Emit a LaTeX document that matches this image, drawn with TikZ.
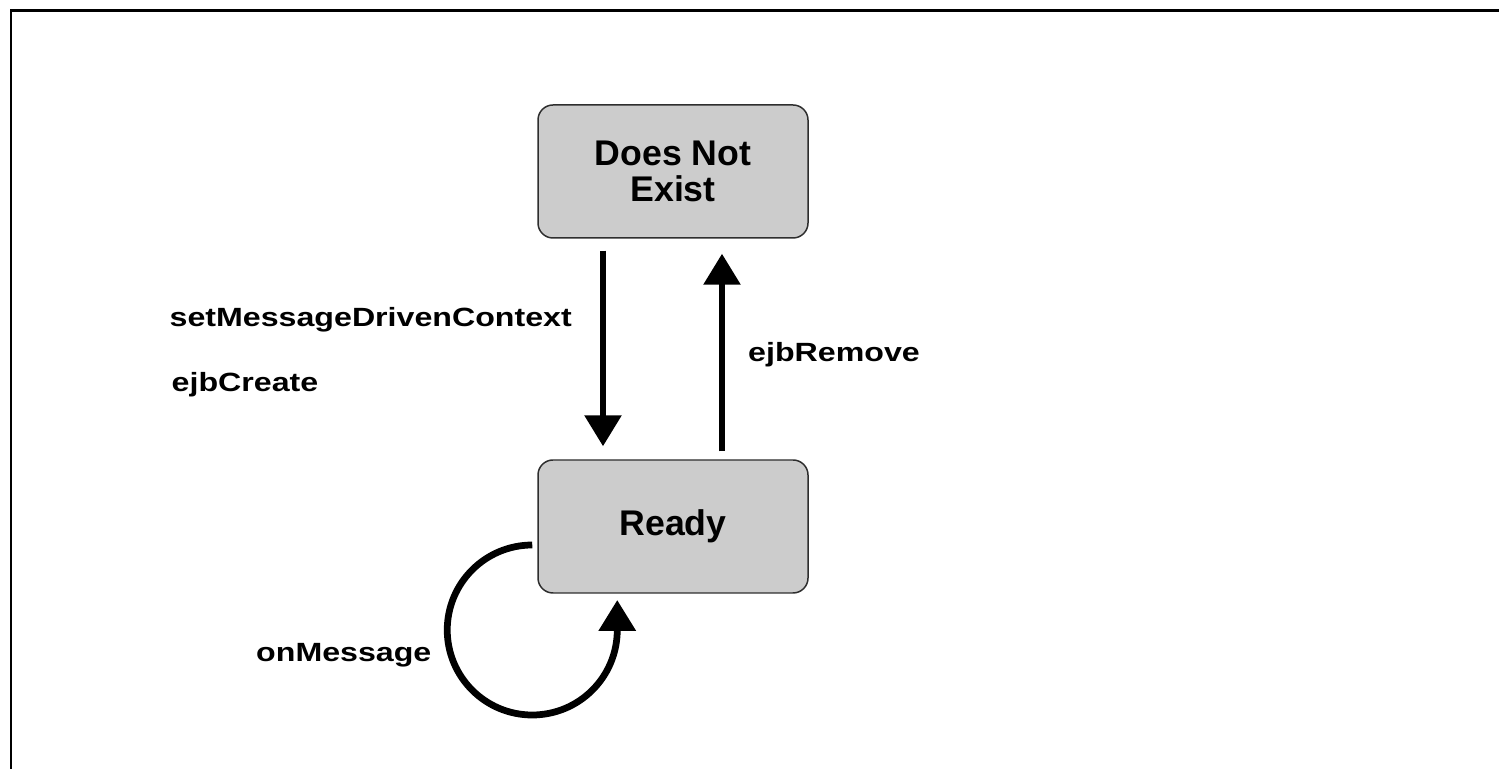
\documentclass[tikz,border=0pt]{standalone}
\usepackage{fontspec}
\usepackage{tikz}
\usetikzlibrary{arrows.meta,positioning}

\newfontfamily\boxfont{Liberation Sans Bold}
\newfontfamily\lblfont[FakeStretch=1.22]{Liberation Sans Bold}
\definecolor{boxfill}{HTML}{CCCCCC}
\definecolor{boxline}{HTML}{2E2E2E}

\begin{document}
\begin{tikzpicture}[on grid,node distance=7.1cm,
 stbox/.style={draw=boxline,fill=boxfill,rounded corners=0.3cm,line width=0.85pt,
  minimum width=5.4cm,minimum height=2.66cm,align=center,
  font=\boxfont\fontsize{20.3}{20.5}\selectfont},
 lbl/.style={anchor=base west,font=\lblfont\fontsize{15}{18}\selectfont},
 flow/.style={-{Triangle[width=0.72cm,length=0.62cm]},line width=0.12cm}]
 \useasboundingbox (0,0) rectangle (29.98,15.38);
 \clip (0,0) rectangle (29.98,15.38);
 % frame
 \draw[line width=1.7pt] (0.22,-1) -- (0.22,15.16) -- (31,15.16);

 \node[stbox] (dne) at (13.46,11.95) {Does Not\\Exist};
 \node[stbox] (ready) [below=of dne] {Ready};

 \path[flow]
 ([xshift=-1.4cm]dne.south) edge [shorten <=0.24cm,shorten >=0.26cm] ([xshift=-1.4cm]ready.north)
 ([xshift=0.98cm]ready.north) edge [shorten <=0.16cm,shorten >=0.3cm] ([xshift=0.98cm]dne.south);
 \draw[flow,line width=0.135cm] ([shift={(-0.1,-0.37)}]ready.west) arc[start angle=90,end angle=360,radius=1.7cm] -- ++(0,0.6);

 \node[lbl] (setctx) at (3.27,8.84) {setMessageDrivenContext};
 \node[lbl] (create) at (3.31,7.54) {ejbCreate};
 \node[lbl] (remove) at (14.84,8.14) {ejbRemove};
 \node[lbl] (onmsg) at (5.0,2.14) {onMessage};
\end{tikzpicture}
\end{document}
